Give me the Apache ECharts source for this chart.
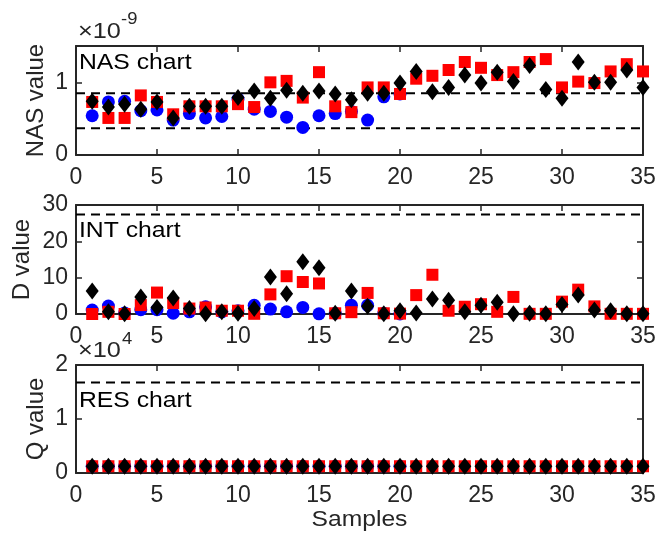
<!DOCTYPE html>
<html>
<head>
<meta charset="utf-8">
<script src="https://cdn.jsdelivr.net/npm/echarts@6/dist/echarts.min.js"></script>
<style>
html,body{margin:0;padding:0;background:#fff;}
#chart{width:660px;height:534px;}
</style>
</head>
<body>
<div id="chart"></div>
<script>
// ---------- data ----------
const samplesBlue = [1,2,3,4,5,6,7,8,9,10,11,12,13,14,15,16,17,18,19,20];
const samplesAll = [1,2,3,4,5,6,7,8,9,10,11,12,13,14,15,16,17,18,19,20,21,22,23,24,25,26,27,28,29,30,31,32,33,34,35];
const xTicks = [0,5,10,15,20,25,30,35];

// NAS chart values (units of 1e-9)
const nasBlue = [0.54,0.73,0.74,0.61,0.62,0.48,0.57,0.51,0.53,0.77,0.63,0.60,0.52,0.38,0.54,0.57,0.60,0.48,0.80,0.84];
const nasRed = [0.73,0.51,0.51,0.82,0.73,0.56,0.67,0.67,0.67,0.70,0.66,1.00,1.02,0.79,1.14,0.67,0.59,0.93,0.93,0.84,1.05,1.09,1.17,1.28,1.20,1.10,1.14,1.28,1.32,0.93,1.01,0.99,1.15,1.25,1.15];
const nasBlack = [0.74,0.66,0.70,0.63,0.73,0.51,0.67,0.67,0.67,0.79,0.88,0.78,0.89,0.85,0.88,0.84,0.76,0.85,0.85,0.99,1.15,0.87,0.93,1.10,0.99,1.14,1.01,1.23,0.90,0.78,1.28,1.00,1.00,1.17,0.93];
const nasLimits = [0.849, 0.367];
const nasTicks = [0, 1];

// INT chart values (D)
const intBlue = [1.1,2.2,0.3,1.2,1.2,0.2,0.6,2.0,0.6,0.9,2.4,1.35,0.6,1.8,0.05,0.2,2.4,2.4,0.2,0.0];
const intRed = [0.0,0.6,0.0,2.45,5.9,3.0,1.5,1.8,0.9,0.9,0.05,5.4,10.4,8.8,8.4,0.2,0.5,5.8,0.2,0.1,5.2,10.8,0.9,2.0,2.7,0.6,4.7,0.05,0.05,3.4,6.7,2.1,0.05,0.05,0.05];
const intBlack = [6.35,0.64,0.05,4.7,1.8,4.4,1.5,0.1,0.6,0.2,1.5,10.2,5.6,14.4,12.7,0.2,6.35,2.1,0.05,0.9,0.3,4.1,3.8,0.6,2.4,3.2,0.05,0.2,0.05,2.6,5.2,1.1,0.9,0.05,0.05];
const intLimit = [27.4];
const intTicks = [0, 10, 20, 30];

// RES chart values (Q)
const resBlue = [1250,1250,1250,1250,1250,1250,1250,1250,1250,1250,1250,1250,1250,1250,1250,1250,1250,1250,1250,1250];
const resRed = [1250,1250,1250,1250,1250,1250,1250,1250,1250,1250,1250,1250,1250,1250,1250,1250,1250,1250,1250,1250,1250,1250,1250,1250,1250,1250,1250,1250,1250,1250,1250,1250,1250,1250,1250];
const resBlack = [1250,1250,1250,1250,1250,1250,1250,1250,1250,1250,1250,1250,1250,1250,1250,1250,1250,1250,1250,1250,1250,1250,1250,1250,1250,1250,1250,1250,1250,1250,1250,1250,1250,1250,1250];
const resLimit = [16760];
const resTicks = [0, 10000, 20000];

// ---------- helpers ----------
const FONT = "'Liberation Sans', Arial, Helvetica, sans-serif";
const AX = '#262626';
const pairs = (xs, ys) => ys.map((v, i) => [xs[i], v]);

const grids = [
  {left: 76, top: 46, width: 567, height: 109},
  {left: 76, top: 205, width: 567, height: 109},
  {left: 76, top: 365, width: 567, height: 108}
];

const lineStyle = {color: AX, width: 2};
const tickStyle = {show: true, inside: true, length: 6, lineStyle: {color: AX, width: 1.5}};

const xAxes = [], yAxes = [];
const yCfg = [
  {ticks: nasTicks, fmt: v => String(v)},
  {ticks: intTicks, fmt: v => String(v)},
  {ticks: resTicks, fmt: v => String(v / 10000)}
];
grids.forEach((g, i) => {
  const xBase = {type: 'value', gridIndex: i, min: xTicks[0], max: xTicks[xTicks.length - 1], interval: xTicks[1] - xTicks[0],
    axisLine: {show: true, onZero: false, lineStyle}, axisTick: tickStyle, splitLine: {show: false}};
  xAxes.push(Object.assign({}, xBase, {position: 'bottom',
    axisLabel: {show: true, margin: 11, color: AX, fontSize: 23, fontFamily: FONT}}));
  xAxes.push(Object.assign({}, xBase, {position: 'top', axisLabel: {show: false}}));
  const yt = yCfg[i].ticks;
  const yMax = i === 0 ? 1.5 : yt[yt.length - 1];
  const yBase = {type: 'value', gridIndex: i, min: yt[0], max: yMax, interval: yt[1] - yt[0],
    axisLine: {show: true, onZero: false, lineStyle}, axisTick: tickStyle, splitLine: {show: false}};
  yAxes.push(Object.assign({}, yBase, {position: 'left',
    axisLabel: {show: true, margin: 8, color: AX, fontSize: 23, fontFamily: FONT,
      formatter: v => (yt.indexOf(v) >= 0 ? yCfg[i].fmt(v) : '')}}));
  yAxes.push(Object.assign({}, yBase, {position: 'right', axisLabel: {show: false}}));
});

const series = [];
function addLimit(gi, y) {
  series.push({type: 'line', xAxisIndex: gi * 2, yAxisIndex: gi * 2, data: [[xTicks[0], y], [xTicks[xTicks.length - 1], y]],
    symbol: 'none', lineStyle: {color: '#000', width: 2, type: [9, 6]}, silent: true, z: 1});
}
function addScatter(gi, xs, ys, kind) {
  const s = {type: 'scatter', xAxisIndex: gi * 2, yAxisIndex: gi * 2, data: pairs(xs, ys), silent: true};
  if (kind === 'blue') Object.assign(s, {symbol: 'circle', symbolSize: 13, itemStyle: {color: '#0000FF', opacity: 1}, z: 2});
  if (kind === 'red') Object.assign(s, {symbol: 'rect', symbolSize: 12, itemStyle: {color: '#FF0000', opacity: 1}, z: 3});
  if (kind === 'black') Object.assign(s, {symbol: 'diamond', symbolSize: [13, 17], itemStyle: {color: '#000000', opacity: 1}, z: 4});
  series.push(s);
}
nasLimits.forEach(v => addLimit(0, v));
intLimit.forEach(v => addLimit(1, v));
resLimit.forEach(v => addLimit(2, v));
addScatter(0, samplesBlue, nasBlue, 'blue');
addScatter(0, samplesAll, nasRed, 'red');
addScatter(0, samplesAll, nasBlack, 'black');
addScatter(1, samplesBlue, intBlue, 'blue');
addScatter(1, samplesAll, intRed, 'red');
addScatter(1, samplesAll, intBlack, 'black');
addScatter(2, samplesBlue, resBlue, 'blue');
addScatter(2, samplesAll, resRed, 'red');
addScatter(2, samplesAll, resBlack, 'black');

function txt(x, y, text, size, opts) {
  return Object.assign({type: 'text', x, y, z: 100, silent: true,
    style: Object.assign({text, font: size + 'px ' + FONT, fill: AX, textAlign: 'left', textVerticalAlign: 'middle'}, (opts && opts.style) || {})},
    (opts && opts.el) || {});
}
const wide = {scaleX: 1.15};

const graphic = [
  txt(79, 63, 'NAS chart', 21.5, {style: {fill: '#000'}, el: wide}),
  txt(79, 231, 'INT chart', 21.5, {style: {fill: '#000'}, el: wide}),
  txt(79, 401, 'RES chart', 21.5, {style: {fill: '#000'}, el: wide}),
  txt(78, 32, '×10', 22, {el: wide}),
  txt(121, 20, '-9', 16, {el: wide}),
  txt(78, 351, '×10', 22, {el: wide}),
  txt(122, 340, '4', 16, {el: wide}),
  txt(36, 100.5, 'NAS value', 24, {style: {textAlign: 'center'}, el: {rotation: Math.PI / 2}}),
  txt(22, 259.5, 'D value', 24, {style: {textAlign: 'center'}, el: {rotation: Math.PI / 2}}),
  txt(36, 419, 'Q value', 24, {style: {textAlign: 'center'}, el: {rotation: Math.PI / 2}}),
  txt(359.5, 520, 'Samples', 22, {style: {textAlign: 'center'}, el: {scaleX: 1.12}})
];

const chart = echarts.init(document.getElementById('chart'), null, {renderer: 'canvas'});
chart.setOption({
  animation: false,
  backgroundColor: '#ffffff',
  grid: grids,
  xAxis: xAxes,
  yAxis: yAxes,
  series,
  graphic
});
</script>
</body>
</html>
